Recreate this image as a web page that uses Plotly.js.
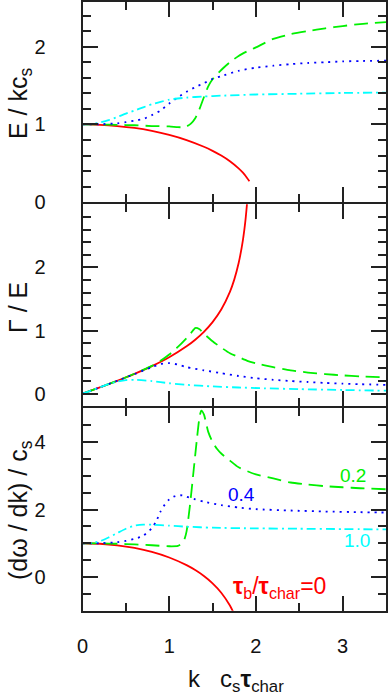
<!DOCTYPE html>
<html>
<head>
<meta charset="utf-8">
<script src="https://cdn.plot.ly/plotly-3.0.1.min.js"></script>
<style>
  body { margin: 0; background: #fff; }
  #graph { width: 388px; height: 695px; }
</style>
</head>
<body>
<div id="graph"></div>
<script>
// tau_b/tau_char = 0 (red)
var kRedE = [0, 0.2, 0.4, 0.6, 0.8, 1.0, 1.2, 1.4, 1.5, 1.6, 1.7, 1.8, 1.85, 1.9, 1.925];
var eRed = [1.0, 0.995, 0.98, 0.955, 0.917, 0.866, 0.80, 0.714, 0.661, 0.60, 0.527, 0.436, 0.38, 0.31, 0.27];
var kRedG = [0, 0.2, 0.4, 0.6, 0.8, 1.0, 1.2, 1.3, 1.4, 1.5, 1.6, 1.7, 1.75, 1.8, 1.85, 1.88, 1.905];
var gRed = [0, 0.1, 0.204, 0.314, 0.436, 0.577, 0.75, 0.855, 0.98, 1.134, 1.333, 1.613, 1.807, 2.065, 2.434, 2.756, 3.13];
var kRedV = [0, 0.2, 0.4, 0.6, 0.8, 1.0, 1.2, 1.3, 1.4, 1.5, 1.6, 1.7, 1.75];
var vRed = [1.0, 0.985, 0.939, 0.86, 0.742, 0.577, 0.35, 0.204, 0.028, -0.189, -0.467, -0.845, -1.1];

// 0.2 (green)
var kGrnE = [0, 0.2, 0.4, 0.6, 0.8, 1.0, 1.1, 1.15, 1.2, 1.25, 1.3, 1.35, 1.4, 1.45, 1.5, 1.6, 1.7, 1.8, 1.9, 2.0, 2.2, 2.4, 2.6, 2.8, 3.0, 3.2, 3.5];
var eGrn = [1.0, 1.0, 0.995, 0.99, 0.98, 0.975, 0.965, 0.965, 0.975, 1.01, 1.08, 1.2, 1.35, 1.49, 1.58, 1.70, 1.80, 1.88, 1.94, 1.99, 2.10, 2.16, 2.20, 2.235, 2.265, 2.29, 2.315];
var kGrnG = [0, 0.2, 0.4, 0.6, 0.8, 0.9, 1.0, 1.1, 1.2, 1.25, 1.3, 1.35, 1.4, 1.5, 1.6, 1.7, 1.8, 1.9, 2.0, 2.2, 2.4, 2.6, 2.8, 3.0, 3.2, 3.5];
var gGrn = [0, 0.1, 0.204, 0.315, 0.44, 0.52, 0.62, 0.74, 0.88, 0.96, 1.04, 1.02, 0.95, 0.83, 0.73, 0.64, 0.58, 0.52, 0.48, 0.42, 0.37, 0.335, 0.31, 0.29, 0.275, 0.26];
var kGrnV = [0, 0.2, 0.4, 0.6, 0.8, 1.0, 1.1, 1.15, 1.18, 1.2, 1.24, 1.28, 1.32, 1.35, 1.37, 1.4, 1.45, 1.5, 1.55, 1.6, 1.7, 1.8, 2.0, 2.2, 2.4, 2.6, 2.8, 3.0, 3.2, 3.5];
var vGrn = [1.0, 0.995, 0.985, 0.965, 0.94, 0.91, 0.92, 1.0, 1.15, 1.35, 2.14, 3.12, 4.1, 4.75, 4.93, 4.82, 4.3, 4.0, 3.8, 3.66, 3.45, 3.25, 3.04, 2.92, 2.80, 2.74, 2.69, 2.66, 2.63, 2.60];

// 0.4 (blue)
var kBluE = [0, 0.2, 0.4, 0.5, 0.6, 0.7, 0.8, 0.9, 1.0, 1.1, 1.2, 1.3, 1.4, 1.5, 1.6, 1.8, 2.0, 2.2, 2.4, 2.6, 2.8, 3.0, 3.2, 3.5];
var eBlu = [1.0, 1.003, 1.015, 1.03, 1.05, 1.07, 1.12, 1.18, 1.27, 1.35, 1.42, 1.48, 1.53, 1.585, 1.62, 1.69, 1.73, 1.755, 1.775, 1.79, 1.80, 1.81, 1.815, 1.82];
var kBluG = [0, 0.2, 0.4, 0.6, 0.8, 0.9, 1.0, 1.1, 1.2, 1.4, 1.6, 1.8, 2.0, 2.2, 2.4, 2.6, 2.8, 3.0, 3.2, 3.5];
var gBlu = [0, 0.1, 0.204, 0.31, 0.42, 0.47, 0.485, 0.46, 0.42, 0.37, 0.325, 0.28, 0.245, 0.22, 0.2, 0.185, 0.17, 0.16, 0.15, 0.14];
var kBluV = [0, 0.2, 0.4, 0.5, 0.6, 0.7, 0.8, 0.85, 0.9, 0.95, 1.0, 1.05, 1.1, 1.15, 1.2, 1.3, 1.4, 1.6, 1.8, 2.0, 2.4, 2.8, 3.2, 3.5];
var vBlu = [1.0, 1.0, 1.03, 1.07, 1.13, 1.22, 1.45, 1.65, 1.94, 2.15, 2.3, 2.38, 2.42, 2.42, 2.38, 2.3, 2.23, 2.13, 2.06, 2.01, 1.97, 1.94, 1.92, 1.91];

// 1.0 (cyan)
var kCynE = [0, 0.1, 0.2, 0.3, 0.4, 0.5, 0.6, 0.7, 0.8, 0.9, 1.0, 1.2, 1.4, 1.6, 2.0, 2.5, 3.0, 3.5];
var eCyn = [1.0, 1.005, 1.025, 1.055, 1.095, 1.14, 1.18, 1.22, 1.26, 1.29, 1.32, 1.345, 1.36, 1.37, 1.385, 1.395, 1.405, 1.41];
var kCynG = [0, 0.1, 0.2, 0.3, 0.4, 0.5, 0.6, 0.8, 1.0, 1.2, 1.5, 1.8, 2.1, 2.5, 3.0, 3.5];
var gCyn = [0, 0.05, 0.1, 0.15, 0.19, 0.215, 0.22, 0.2, 0.165, 0.14, 0.115, 0.098, 0.085, 0.072, 0.058, 0.047];
var kCynV = [0, 0.1, 0.2, 0.3, 0.4, 0.5, 0.6, 0.7, 0.8, 1.0, 1.2, 1.5, 2.0, 2.5, 3.0, 3.5];
var vCyn = [1.0, 1.01, 1.06, 1.17, 1.3, 1.43, 1.52, 1.55, 1.55, 1.52, 1.49, 1.46, 1.44, 1.43, 1.42, 1.41];

var RED = '#ff0000', GRN = '#00f000', BLU = '#0000ff', CYN = '#00ffff';
var DASH = '14px,7px', DOT = '2px,5px', DASHDOT = '9px,4px,2px,4px';
var FONT = 'Liberation Sans, Arial, sans-serif';

function line(x, y, color, dash, ax) {
  return {
    x: x, y: y, type: 'scatter', mode: 'lines',
    xaxis: 'x' + ax, yaxis: 'y' + ax,
    line: {color: color, dash: dash, width: 1.8, shape: 'spline', smoothing: 0.6},
    hoverinfo: 'skip'
  };
}

var traces = [
  line(kRedE, eRed, RED, 'solid', ''),
  line(kGrnE, eGrn, GRN, DASH, ''),
  line(kBluE, eBlu, BLU, DOT, ''),
  line(kCynE, eCyn, CYN, DASHDOT, ''),
  line(kRedG, gRed, RED, 'solid', '2'),
  line(kGrnG, gGrn, GRN, DASH, '2'),
  line(kBluG, gBlu, BLU, DOT, '2'),
  line(kCynG, gCyn, CYN, DASHDOT, '2'),
  line(kRedV, vRed, RED, 'solid', '3'),
  line(kGrnV, vGrn, GRN, DASH, '3'),
  line(kBluV, vBlu, BLU, DOT, '3'),
  line(kCynV, vCyn, CYN, DASHDOT, '3')
];

var W = 388, H = 695;
// axis lines sit just outside each domain, so neighbouring panels are offset by the line width
var xDom = [82.5 / W, 386 / W];
var dom1 = [(H - 202.3) / H, (H - 1.5) / H];
var dom2 = [(H - 406.3) / H, (H - 204.3) / H];
var dom3 = [(H - 610.7) / H, (H - 408.3) / H];

function xax(anchor, labels) {
  return {
    domain: xDom, anchor: anchor, range: [0, 3.5],
    showline: true, linecolor: '#222', linewidth: 2, mirror: 'ticks',
    ticks: 'inside', ticklen: 15, tickwidth: 2, tickcolor: '#222',
    dtick: 1, tick0: 0, showgrid: false, zeroline: false,
    showticklabels: labels, ticklabelstandoff: 16,
    tickfont: {family: FONT, size: 20, color: '#111'},
    minor: {dtick: 0.5, tick0: 0, ticks: 'inside', ticklen: 8, tickwidth: 2, tickcolor: '#222', showgrid: false}
  };
}

function yax(anchor, dom, range, dtick, minorDtick, vals) {
  var a = {
    domain: dom, anchor: anchor, range: range,
    showline: true, linecolor: '#222', linewidth: 2, mirror: 'ticks',
    ticks: 'inside', ticklen: 15, tickwidth: 2, tickcolor: '#222',
    dtick: dtick, tick0: 0, showgrid: false, zeroline: false,
    ticklabelstandoff: 31,
    tickfont: {family: FONT, size: 20, color: '#111'},
    minor: {dtick: minorDtick, tick0: 0, ticks: 'inside', ticklen: 8, tickwidth: 2, tickcolor: '#222', showgrid: false}
  };
  if (vals) { a.tickmode = 'array'; a.tickvals = vals; a.ticktext = vals.map(String); }
  return a;
}

function ytitle(text, yc) {
  return {xref: 'paper', yref: 'paper', x: 2 / W, y: yc, xanchor: 'left', yanchor: 'middle',
    text: text, textangle: -90, showarrow: false, font: {family: FONT, size: 25, color: '#111'}};
}

function label(text, x, y, color, size) {
  return {xref: 'x3', yref: 'y3', x: x, y: y, text: text, showarrow: false,
    xanchor: 'center', yanchor: 'middle', font: {family: FONT, size: size, color: color}};
}

var layout = {
  width: W, height: H,
  margin: {l: 0, r: 0, t: 0, b: 0},
  paper_bgcolor: '#fff', plot_bgcolor: '#fff',
  showlegend: false,
  xaxis: xax('y', false),
  xaxis2: xax('y2', false),
  xaxis3: xax('y3', true),
  yaxis: yax('x', dom1, [0, 2.58], 1, 0.2),
  yaxis2: yax('x2', dom2, [-0.2, 3.0], 1, 0.2, [0, 1, 2]),
  yaxis3: yax('x3', dom3, [-1, 5], 2, 0.5),
  annotations: [
    ytitle('E / kc<sub>s</sub>', 1 - 103 / H),
    ytitle('Γ / E', 1 - 308 / H),
    ytitle('(dω / dk) / c<sub>s</sub>', 1 - 510 / H),
    {xref: 'paper', yref: 'paper', x: 236 / W, y: 1 - 680 / H, xanchor: 'center', yanchor: 'middle',
      text: 'k   c<sub>s</sub><b>τ</b><sub>char</sub>', showarrow: false,
      font: {family: FONT, size: 24, color: '#111'}},
    label('0.2', 3.12, 3.02, GRN, 19),
    label('0.4', 1.83, 2.45, BLU, 19),
    label('1.0', 3.16, 1.08, CYN, 19),
    label('<b>τ</b><sub>b</sub>/<b>τ</b><sub>char</sub>=0', 2.27, -0.32, RED, 23)
  ]
};

Plotly.newPlot('graph', traces, layout, {staticPlot: true});
</script>
</body>
</html>
